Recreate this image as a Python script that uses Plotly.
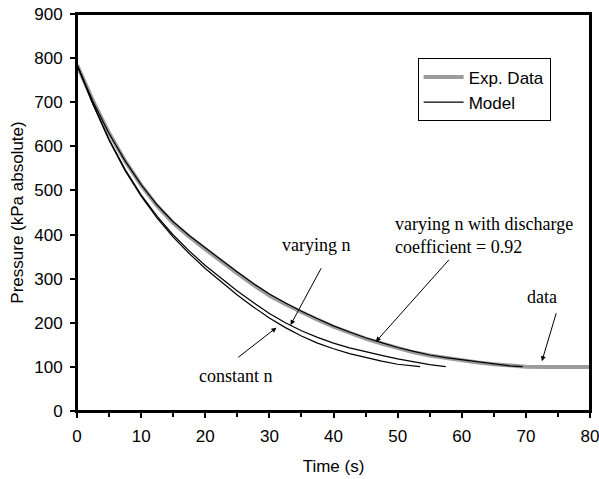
import plotly.graph_objects as go

# Measured tank pressure during blowdown (kPa absolute)
t_data = [0, 2.5, 5, 7.5, 10, 12.5, 15, 17.5, 20, 22.5, 25, 27.5, 30, 32.5, 35,
          37.5, 40, 42.5, 45, 47.5, 50, 52.5, 55, 57.5, 60, 62.5, 65, 67.5, 70,
          72.5, 75, 77.5, 80]
p_data = [785, 703, 630, 567, 512, 465, 426, 395, 367, 339, 312, 286, 262, 242, 224,
          207, 191, 177, 164, 153, 142, 133, 126, 120, 115, 110, 106, 102.5, 100.5,
          100, 100, 100, 100]

# Model: varying n with discharge coefficient = 0.92
t_cd = [0, 2.5, 5, 7.5, 10, 12.5, 15, 17.5, 20, 22.5, 25, 27.5, 30, 32.5, 35,
        37.5, 40, 42.5, 45, 47.5, 50, 52.5, 55, 57.5, 60, 62.5, 65, 67.5, 69.5]
p_cd = [785, 701, 629, 567, 513, 467, 429, 398, 370, 342, 315, 289, 265, 245, 226,
        209, 193, 179, 166, 155, 144, 135, 127, 121, 116, 111, 106, 102.5, 100.5]

# Model: varying n
t_var = [0, 2.5, 5, 7.5, 10, 12.5, 15, 17.5, 20, 22.5, 25, 27.5, 30, 32.5, 35,
         37.5, 40, 42.5, 45, 47.5, 50, 52.5, 55, 57.5]
p_var = [785, 696, 616, 548, 490, 441, 399, 363, 330, 300, 272, 246, 221, 200, 182,
         167, 154, 143, 134, 126, 118, 111, 105, 100.5]

# Model: constant n
t_const = [0, 2.5, 5, 7.5, 10, 12.5, 15, 17.5, 20, 22.5, 25, 27.5, 30, 32.5, 35,
           37.5, 40, 42.5, 45, 47.5, 50, 52.5, 53.5]
p_const = [785, 695, 614, 545, 487, 437, 394, 357, 323, 292, 263, 236, 211, 189, 170,
           154, 141, 130, 121, 113, 106, 101, 100.5]

x_ticks = [0, 10, 20, 30, 40, 50, 60, 70, 80]
y_ticks = [0, 100, 200, 300, 400, 500, 600, 700, 800, 900]

SANS = "Liberation Sans, Arial, sans-serif"
SERIF = "Liberation Serif, Times New Roman, serif"

fig = go.Figure()
fig.add_trace(go.Scatter(x=t_data, y=p_data, mode="lines", name="Exp. Data",
                         line=dict(color="#9c9c9c", width=4)))
fig.add_trace(go.Scatter(x=t_cd, y=p_cd, mode="lines", name="Model",
                         line=dict(color="black", width=1.2)))
fig.add_trace(go.Scatter(x=t_var, y=p_var, mode="lines", name="Model",
                         showlegend=False, line=dict(color="black", width=1.2)))
fig.add_trace(go.Scatter(x=t_const, y=p_const, mode="lines", name="Model",
                         showlegend=False, line=dict(color="black", width=1.2)))

labels = [
    dict(x=49.3, y=397, text="varying n with discharge<br>coefficient = 0.92",
         xanchor="left", align="left"),
    dict(x=37.3, y=376, text="varying n", xanchor="center"),
    dict(x=24.8, y=79, text="constant n", xanchor="center"),
    dict(x=72.5, y=258, text="data", xanchor="center"),
]
annotations = []
for lab in labels:
    annotations.append(dict(x=lab["x"], y=lab["y"], xref="x", yref="y",
                            text=lab["text"], showarrow=False,
                            xanchor=lab["xanchor"], yanchor="middle",
                            align=lab.get("align", "center"),
                            font=dict(family=SERIF, size=18, color="black")))

# Pointer arrows: (tail x, tail y) -> (head x, head y)
pointers = [
    (38.2, 327, 33.3, 195),
    (24.9, 119, 31.1, 189),
    (58.2, 346, 46.6, 157),
    (74.8, 225, 72.5, 113),
]
for tx, ty, hx, hy in pointers:
    annotations.append(dict(x=hx, y=hy, ax=tx, ay=ty, xref="x", yref="y",
                            axref="x", ayref="y", text="", showarrow=True,
                            arrowhead=2, arrowsize=1, arrowwidth=1,
                            arrowcolor="black", standoff=0))

fig.update_layout(
    width=599, height=479,
    margin=dict(l=77, r=9, t=14, b=68),
    paper_bgcolor="white", plot_bgcolor="white",
    font=dict(family=SANS, size=17, color="black"),
    showlegend=True,
    legend=dict(x=0.664, y=0.888, xanchor="left", yanchor="top",
                bordercolor="black", borderwidth=1, bgcolor="white",
                itemwidth=40,
                font=dict(family=SANS, size=17, color="black")),
    annotations=annotations,
    # plot-area frame
    shapes=[dict(type="rect", xref="paper", yref="paper", x0=0, x1=1, y0=0, y1=1,
                 line=dict(color="black", width=2), layer="above")],
)
fig.update_xaxes(
    range=[0, 80], tickvals=x_ticks, ticktext=[str(v) for v in x_ticks],
    showgrid=False, zeroline=False, showline=True, linecolor="black",
    linewidth=2, mirror=True, ticks="outside", ticklen=5, tickwidth=1.5,
    tickcolor="black", ticklabelstandoff=4, automargin=False,
    ticklabeloverflow="allow",
    minor=dict(dtick=5, ticks="outside", ticklen=4, tickwidth=1.5,
               tickcolor="black", showgrid=False),
    title=dict(text="Time (s)", font=dict(family=SANS, size=17), standoff=15),
)
fig.update_yaxes(
    range=[0, 900], tickvals=y_ticks, ticktext=[str(v) for v in y_ticks],
    showgrid=False, zeroline=False, showline=True, linecolor="black",
    linewidth=2, mirror=True, ticks="outside", ticklen=5, tickwidth=1.5,
    tickcolor="black", ticklabelstandoff=4, automargin=False,
    title=dict(text="Pressure (kPa absolute)", font=dict(family=SANS, size=17),
               standoff=6),
)

fig.write_html("out.html")
